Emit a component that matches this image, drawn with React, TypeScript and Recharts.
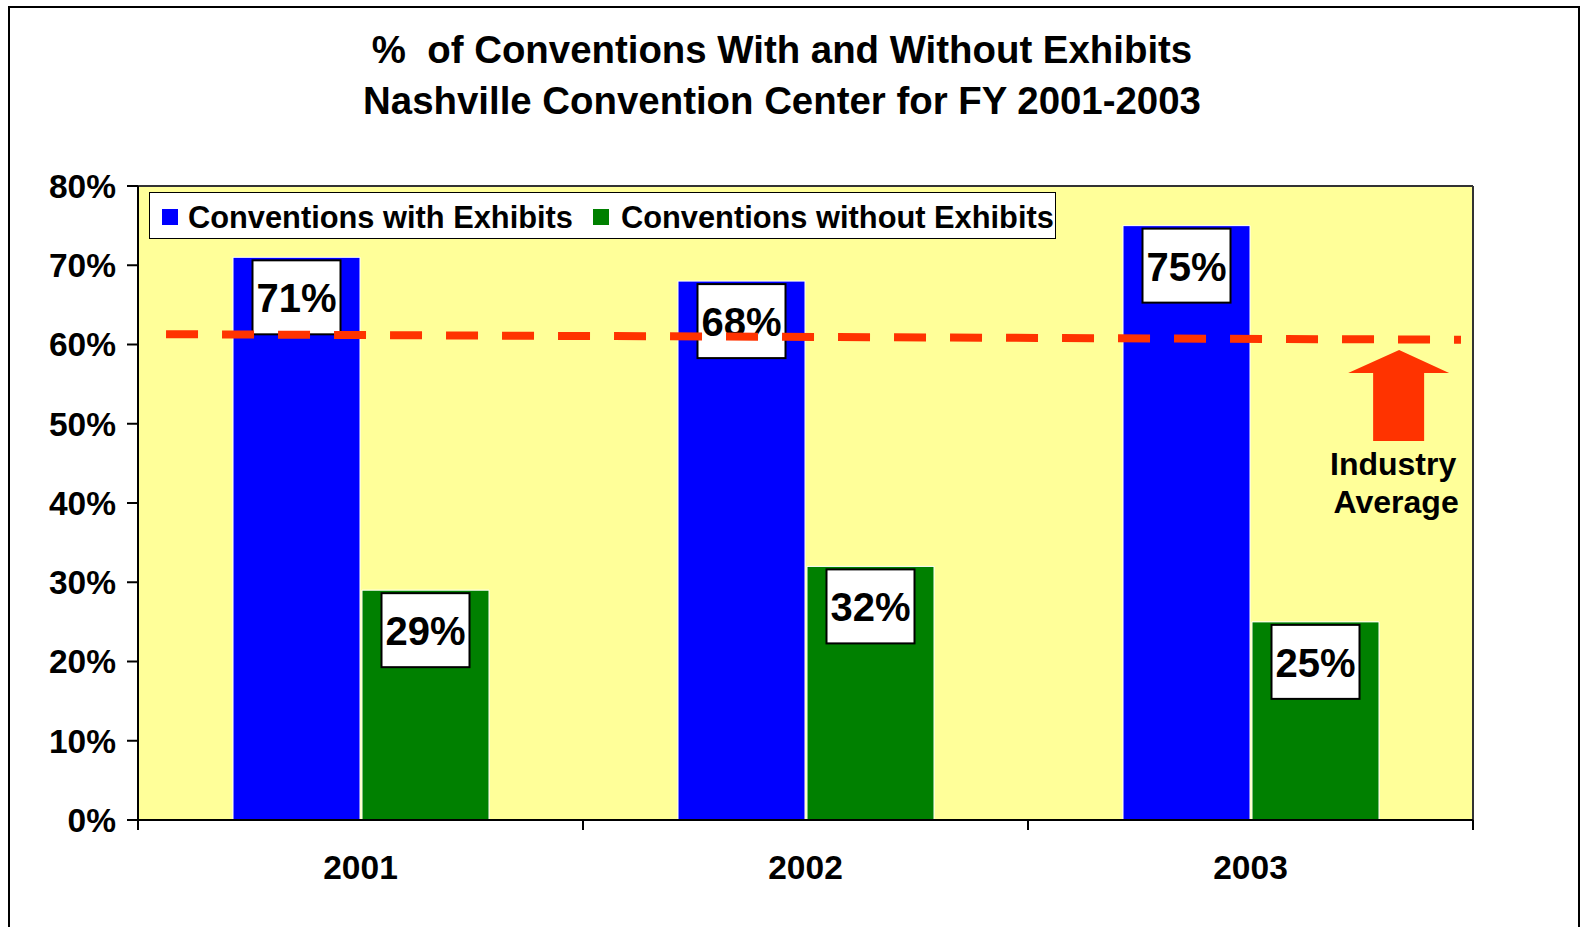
import React from "react"
import {
  ComposedChart,
  Bar,
  XAxis,
  YAxis,
  CartesianGrid,
  Legend,
  LabelList,
  ReferenceLine,
  ReferenceDot,
} from "recharts"

const years = ["2001", "2002", "2003"]
const withExhibits = [71, 68, 75]
const withoutExhibits = [29, 32, 25]
const yTicks = [0, 10, 20, 30, 40, 50, 60, 70, 80]
// x runs 0..3, one unit per fiscal year; categories sit at the half points
const xTicks = [0, 0.5, 1, 1.5, 2, 2.5, 3]
// industry average line: slight drift from left end to right end
const industryAvg = [61.3, 60.6]
const industryAvgX = [0.063, 2.973]
const arrowAt = { x: 2.834, y: 59.3 }

const FONT = '"Liberation Sans", Arial, Helvetica, sans-serif'
const BLUE = "#0000FF"
const GREEN = "#008000"
const ORANGE = "#FF3300"

const chartData = years.map((year, i) => ({
  pos: i + 0.5,
  year,
  withEx: withExhibits[i],
  withoutEx: withoutExhibits[i],
}))

const seriesNames: Record<string, string> = {
  withEx: "Conventions with Exhibits",
  withoutEx: "Conventions without Exhibits",
}

const ValueBox = (props: any) => {
  const { x, y, width, value } = props
  const cx = Number(x) + Number(width) / 2
  const top = Number(y) + 3
  return (
    <g>
      <rect x={cx - 44} y={top} width={88} height={74} fill="#fff" stroke="#000" strokeWidth={2} />
      <text x={cx} y={top + 52} textAnchor="middle" fontSize={40} fontWeight="bold" fill="#000">
        {value}%
      </text>
    </g>
  )
}

const YearTick = (props: any) => {
  const { x, y, payload } = props
  const v = Number(payload.value)
  if (Number.isInteger(v)) {
    return <line x1={x} y1={y} x2={x} y2={y + 10} stroke="#000" strokeWidth={2} />
  }
  return (
    <text x={x} y={y + 59} textAnchor="middle" fontSize={33.5} fontWeight="bold" fill="#000">
      {years[Math.floor(v)]}
    </text>
  )
}

const ArrowShape = (props: any) => {
  const { cx, cy } = props
  const pts = [
    [0, 0],
    [50, 23],
    [25, 23],
    [25, 91],
    [-26, 91],
    [-26, 23],
    [-51, 23],
  ]
    .map(([dx, dy]) => `${cx + dx},${cy + dy}`)
    .join(" ")
  return (
    <g>
      <polygon points={pts} fill={ORANGE} />
      <text x={cx - 6} y={cy + 125} textAnchor="middle" fontSize={32} fontWeight="bold" fill="#000">
        Industry
      </text>
      <text x={cx - 3} y={cy + 163} textAnchor="middle" fontSize={32} fontWeight="bold" fill="#000">
        Average
      </text>
    </g>
  )
}

const LegendBox = () => (
  <div
    style={{
      position: "relative",
      width: 907,
      height: 47,
      boxSizing: "border-box",
      background: "#fff",
      border: "1.5px solid #000",
      fontFamily: FONT,
      fontWeight: "bold",
      fontSize: 30.8,
      color: "#000",
    }}
  >
    <span style={{ position: "absolute", left: 12, top: 16, width: 16, height: 16, background: BLUE }} />
    <span style={{ position: "absolute", left: 38, top: 7, lineHeight: "36px", whiteSpace: "nowrap" }}>
      {seriesNames.withEx}
    </span>
    <span style={{ position: "absolute", left: 443, top: 16, width: 16, height: 16, background: GREEN }} />
    <span style={{ position: "absolute", left: 471, top: 7, lineHeight: "36px", whiteSpace: "nowrap" }}>
      {seriesNames.withoutEx}
    </span>
  </div>
)

export default function App() {
  return (
    <div
      style={{
        position: "fixed",
        left: 0,
        top: 0,
        width: 1581,
        height: 927,
        overflow: "hidden",
        background: "#fff",
        fontFamily: FONT,
      }}
    >
      <div
        style={{
          position: "absolute",
          left: 8,
          top: 6,
          width: 1572,
          height: 960,
          boxSizing: "border-box",
          border: "2.5px solid #000",
        }}
      />
      <div
        style={{
          position: "absolute",
          left: 0,
          top: 24,
          width: 1564,
          textAlign: "center",
          fontSize: 38.4,
          lineHeight: "51px",
          fontWeight: "bold",
          color: "#000",
          whiteSpace: "pre",
        }}
      >
        {"%  of Conventions With and Without Exhibits\nNashville Convention Center for FY 2001-2003"}
      </div>
      <div style={{ position: "absolute", left: 0, top: 0 }}>
        <ComposedChart
          width={1581}
          height={927}
          data={chartData}
          margin={{ top: 186, right: 108, bottom: 47, left: 38 }}
          barCategoryGap={95}
          barGap={2}
          style={{ fontFamily: FONT }}
        >
          <CartesianGrid horizontal={false} vertical={false} fill="#FFFF99" fillOpacity={1} />
          <XAxis
            dataKey="pos"
            type="number"
            domain={[0, 3]}
            ticks={xTicks}
            interval={0}
            height={60}
            tickLine={false}
            tickSize={0}
            tickMargin={0}
            axisLine={{ stroke: "#000", strokeWidth: 2 }}
            tick={<YearTick />}
            allowDataOverflow
          />
          <YAxis
            width={100}
            domain={[0, 80]}
            ticks={yTicks}
            tickFormatter={(v: number) => `${v}%`}
            tick={{ fill: "#000", fontSize: 33.5, fontWeight: "bold" }}
            tickSize={11}
            tickMargin={11}
            tickLine={{ stroke: "#000", strokeWidth: 2 }}
            axisLine={{ stroke: "#000", strokeWidth: 2 }}
            allowDataOverflow
          />
          <Legend
            layout="horizontal"
            verticalAlign="middle"
            align="center"
            content={<LegendBox />}
            wrapperStyle={{ position: "absolute", left: 149, top: 192, width: 907, height: 47 }}
          />
          <Bar
            dataKey="withEx"
            name={seriesNames.withEx}
            fill={BLUE}
            stroke="#fff"
            strokeWidth={1}
            isAnimationActive={false}
          >
            <LabelList dataKey="withEx" content={<ValueBox />} />
          </Bar>
          <Bar
            dataKey="withoutEx"
            name={seriesNames.withoutEx}
            fill={GREEN}
            stroke="#fff"
            strokeWidth={1}
            isAnimationActive={false}
          >
            <LabelList dataKey="withoutEx" content={<ValueBox />} />
          </Bar>
          <ReferenceLine y={80} stroke="#333" strokeWidth={2} />
          <ReferenceLine x={3} stroke="#333" strokeWidth={2} />
          <ReferenceLine
            segment={[
              { x: industryAvgX[0], y: industryAvg[0] },
              { x: industryAvgX[1], y: industryAvg[1] },
            ]}
            stroke={ORANGE}
            strokeWidth={8}
            strokeDasharray="32 24"
            zIndex={3000}
          />
          <ReferenceDot x={arrowAt.x} y={arrowAt.y} r={1} shape={<ArrowShape />} zIndex={3000} />
        </ComposedChart>
      </div>
    </div>
  )
}
